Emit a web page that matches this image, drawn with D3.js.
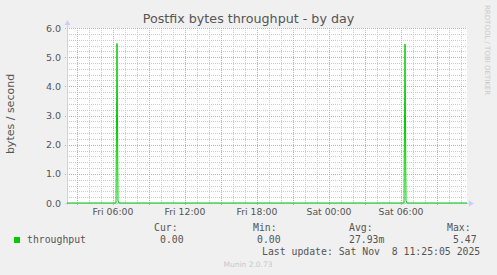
<!DOCTYPE html>
<html>
<head>
<meta charset="utf-8">
<script src="https://cdn.jsdelivr.net/npm/d3@7"></script>
<style>
  html, body { margin: 0; padding: 0; background: #f0f0f0; }
  svg { display: block; }
</style>
</head>
<body>
<div id="chart"></div>
<script>
// samples (5 min steps)
var times = [
  '2025-11-07 02:10', '2025-11-07 06:15', '2025-11-07 06:20', '2025-11-07 06:25', '2025-11-07 06:30',
  '2025-11-08 06:15', '2025-11-08 06:20', '2025-11-08 06:25', '2025-11-08 06:30', '2025-11-08 11:30'
];
var values = [0, 0, 5.47, 0.07, 0, 0, 5.45, 0.08, 0, 0];
var yTicks = [0, 1, 2, 3, 4, 5, 6];
var legendNames = ['throughput'];
var statLabels = ['Cur:', 'Min:', 'Avg:', 'Max:'];
var statValues = ['0.00', '0.00', '27.93m', '5.47'];
var lastUpdate = 'Last update: Sat Nov  8 11:25:05 2025';

var width = 497, height = 275;
var plot = {left: 67, right: 467, top: 28, bottom: 203};
var parse = d3.utcParse('%Y-%m-%d %H:%M');
var data = times.map(function(t, i) { return {t: parse(t), v: values[i]}; });

var x = d3.scaleUtc()
  .domain([parse('2025-11-07 02:10'), parse('2025-11-08 11:30')])
  .range([plot.left, plot.right]);
var y = d3.scaleLinear().domain([0, 6]).range([plot.bottom, plot.top]);

var svg = d3.select('#chart').append('svg')
  .attr('width', width).attr('height', height)
  .style('font-family', 'DejaVu Sans');

svg.append('rect').attr('width', width).attr('height', height).attr('fill', '#f0f0f0');
svg.append('rect')
  .attr('x', plot.left).attr('y', plot.top)
  .attr('width', plot.right - plot.left).attr('height', plot.bottom - plot.top)
  .attr('fill', '#ffffff');

var grid = svg.append('g').attr('shape-rendering', 'crispEdges');

// minor grid
grid.selectAll('.hmin').data(d3.range(0, 6.01, 0.2)).enter().append('line')
  .attr('x1', plot.left).attr('x2', plot.right)
  .attr('y1', function(d) { return Math.round(y(d)) + 0.5; })
  .attr('y2', function(d) { return Math.round(y(d)) + 0.5; })
  .attr('stroke', '#cccccc').attr('stroke-dasharray', '1,1');
grid.selectAll('.vmin').data(x.ticks(d3.utcHour.every(1))).enter().append('line')
  .attr('x1', function(d) { return Math.round(x(d)) + 0.5; })
  .attr('x2', function(d) { return Math.round(x(d)) + 0.5; })
  .attr('y1', plot.top).attr('y2', plot.bottom)
  .attr('stroke', '#cccccc').attr('stroke-dasharray', '1,1');

// major grid
grid.selectAll('.hmaj').data(yTicks).enter().append('line')
  .attr('x1', plot.left - 2).attr('x2', plot.right)
  .attr('y1', function(d) { return Math.round(y(d)) + 0.5; })
  .attr('y2', function(d) { return Math.round(y(d)) + 0.5; })
  .attr('stroke', '#e8a0a0').attr('stroke-dasharray', '1,1');
grid.selectAll('.vmaj').data(x.ticks(d3.utcHour.every(3))).enter().append('line')
  .attr('x1', function(d) { return Math.round(x(d)) + 0.5; })
  .attr('x2', function(d) { return Math.round(x(d)) + 0.5; })
  .attr('y1', plot.top).attr('y2', plot.bottom + 3)
  .attr('stroke', '#e8a0a0').attr('stroke-dasharray', '1,1');

// axes lines and arrows
svg.append('line')
  .attr('x1', plot.left + 0.5).attr('x2', plot.left + 0.5)
  .attr('y1', plot.bottom + 2).attr('y2', plot.top - 4)
  .attr('stroke', '#ccccff').attr('shape-rendering', 'crispEdges');
svg.append('path')
  .attr('d', 'M' + (plot.left - 2.5) + ',' + (plot.top - 3) + 'L' + (plot.left + 0.5) + ',' + (plot.top - 8) + 'L' + (plot.left + 3.5) + ',' + (plot.top - 3) + 'Z')
  .attr('fill', '#ccccff');
svg.append('line')
  .attr('x1', plot.left - 2).attr('x2', plot.right + 4)
  .attr('y1', plot.bottom + 0.5).attr('y2', plot.bottom + 0.5)
  .attr('stroke', '#ccccff').attr('shape-rendering', 'crispEdges');
svg.append('path')
  .attr('d', 'M' + (plot.right + 2) + ',' + (plot.bottom - 2.5) + 'L' + (plot.right + 7) + ',' + (plot.bottom + 0.5) + 'L' + (plot.right + 2) + ',' + (plot.bottom + 3.5) + 'Z')
  .attr('fill', '#ccccff');

// data line
var line = d3.line()
  .x(function(d) { return x(d.t); })
  .y(function(d) { return y(d.v); });
svg.append('path').datum(data)
  .attr('d', line)
  .attr('fill', 'none')
  .attr('stroke', '#00cc00')
  .attr('stroke-width', 1);

// y tick labels
svg.selectAll('.ylab').data(yTicks).enter().append('text')
  .attr('x', plot.left - 6)
  .attr('y', function(d) { return y(d) + 3.5; })
  .attr('text-anchor', 'end')
  .style('font-size', '9.5px')
  .attr('fill', '#555555')
  .text(function(d) { return d.toFixed(1); });

// x tick labels
var fmt = d3.utcFormat('%a %H:%M');
svg.selectAll('.xlab').data(x.ticks(d3.utcHour.every(6))).enter().append('text')
  .attr('x', function(d) { return x(d); })
  .attr('y', plot.bottom + 12)
  .attr('text-anchor', 'middle')
  .style('font-size', '9.3px')
  .attr('fill', '#555555')
  .text(fmt);

// title and axis label
svg.append('text')
  .attr('x', 248.5).attr('y', 23)
  .attr('text-anchor', 'middle')
  .style('font-size', '12.7px')
  .attr('fill', '#555555')
  .text('Postfix bytes throughput - by day');
svg.append('text')
  .attr('transform', 'translate(14,114) rotate(-90)')
  .attr('text-anchor', 'middle')
  .style('font-size', '11px')
  .attr('fill', '#555555')
  .text('bytes / second');

// watermark
svg.append('text')
  .attr('transform', 'translate(485,5) rotate(90)')
  .style('font-size', '7px')
  .attr('fill', '#c8c8c8')
  .text('RRDTOOL / TOBI OETIKER');
svg.append('text')
  .attr('x', 248).attr('y', 267)
  .attr('text-anchor', 'middle')
  .style('font-size', '7.5px')
  .attr('fill', '#c8c8c8')
  .text('Munin 2.0.73');

// legend
var mono = svg.append('g')
  .style('font-family', 'DejaVu Sans Mono')
  .style('font-size', '9.8px')
  .attr('fill', '#555555');
mono.append('rect').attr('x', 14).attr('y', 237).attr('width', 6).attr('height', 6).attr('fill', '#00cc00');
mono.append('text').attr('x', 27).attr('y', 243).text(legendNames[0]);
var labelX = [154, 253, 349, 447];
var valueX = [160, 257, 349, 453];
statLabels.forEach(function(s, i) {
  mono.append('text').attr('x', labelX[i]).attr('y', 231).text(s);
  mono.append('text').attr('x', valueX[i]).attr('y', 243).text(statValues[i]);
});
mono.append('text').attr('x', 262).attr('y', 255).attr('xml:space', 'preserve').style('white-space', 'pre').text(lastUpdate);
</script>
</body>
</html>
